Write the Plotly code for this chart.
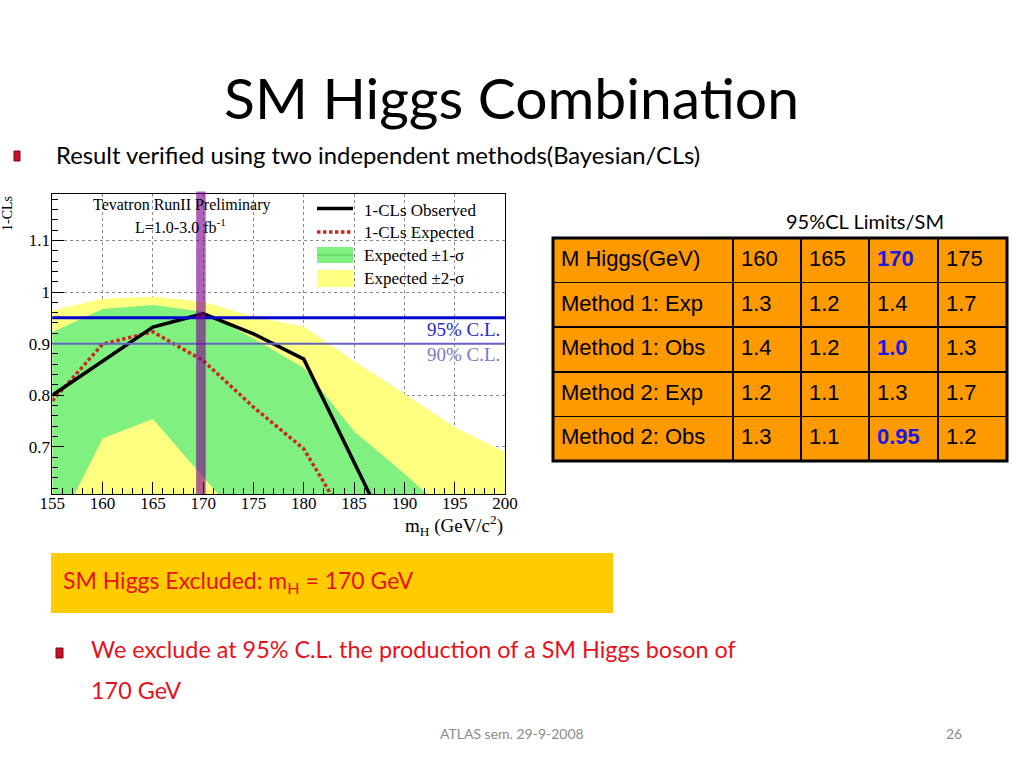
import plotly.graph_objects as go

# ---------------- data ----------------
mass = [155, 160, 165, 170, 175, 180, 185, 190, 195, 200]
obs_1mcls = [0.800, 0.866, 0.932, 0.958, 0.919, 0.870, 0.664, 0.470, 0.300, 0.200]
exp_1mcls = [0.789, 0.899, 0.923, 0.867, 0.777, 0.696, 0.533, 0.400, 0.300, 0.220]
exp_1sig_up = [0.922, 0.967, 0.975, 0.962, 0.910, 0.853, 0.730, 0.648, 0.560, 0.480]
exp_1sig_lo = [0.523, 0.716, 0.754, 0.642, 0.529, 0.450, 0.400, 0.350, 0.300, 0.250]
exp_2sig_up = [0.964, 0.987, 0.991, 0.981, 0.952, 0.933, 0.866, 0.803, 0.738, 0.690]
exp_2sig_lo = [0.350, 0.420, 0.450, 0.400, 0.350, 0.300, 0.250, 0.200, 0.150, 0.100]
cl95 = 0.95
cl90 = 0.90
excluded_mass = 170

x_ticks = [155, 160, 165, 170, 175, 180, 185, 190, 195, 200]
y_ticks = [0.7, 0.8, 0.9, 1.0, 1.1]
y_ticklabels = ["0.7", "0.8", "0.9", "1", "1.1"]

# table: 95%CL limits / SM
tbl_mass = [160, 165, 170, 175]
tbl_rows = ["Method 1: Exp", "Method 1: Obs", "Method 2: Exp", "Method 2: Obs"]
m1_exp = [1.3, 1.2, 1.4, 1.7]
m1_obs = [1.4, 1.2, 1.0, 1.3]
m2_exp = [1.2, 1.1, 1.3, 1.7]
m2_obs = [1.3, 1.1, 0.95, 1.2]

W, H = 1024, 768
def X(px):
    return px / W
def Y(py):
    return 1 - py / H

SERIF = "Liberation Serif"
SANS = "Lato"
ARIAL = "Liberation Sans"

fig = go.Figure()

# bands
fig.add_trace(go.Scatter(
    x=mass + mass[::-1], y=exp_2sig_up + exp_2sig_lo[::-1],
    fill="toself", fillcolor="#FFFF80", line=dict(width=0),
    mode="lines", showlegend=False, hoverinfo="skip"))
fig.add_trace(go.Scatter(
    x=mass + mass[::-1], y=exp_1sig_up + exp_1sig_lo[::-1],
    fill="toself", fillcolor="#80F080", line=dict(width=0),
    mode="lines", showlegend=False, hoverinfo="skip"))
fig.add_trace(go.Scatter(
    x=mass, y=exp_1mcls, mode="lines",
    line=dict(color="#CC2A1E", width=3.5, dash="3.5px,2.5px"),
    showlegend=False))
fig.add_trace(go.Scatter(
    x=mass, y=obs_1mcls, mode="lines",
    line=dict(color="black", width=3.5), showlegend=False))

# CL lines and exclusion bar
fig.add_hline(y=cl95, line=dict(color="#0000CC", width=3))
fig.add_hline(y=cl90, line=dict(color="#6464C0", width=2))
fig.add_vrect(x0=excluded_mass - 0.7, x1=excluded_mass + 0.25, y0=0, y1=1.008,
              fillcolor="rgba(125,0,140,0.62)", line=dict(width=0), layer="above")

axis_font = dict(family=SERIF, size=17, color="black")
fig.update_layout(
    width=W, height=H, margin=dict(l=0, r=0, t=0, b=0, autoexpand=False),
    paper_bgcolor="white", plot_bgcolor="white",
    xaxis=dict(domain=[X(52.3), X(505)], range=[155, 200], automargin=False,
               tickvals=x_ticks, ticks="inside", ticklen=12, tickcolor="black",
               showline=True, linecolor="black", linewidth=1, mirror=True,
               showgrid=True, gridcolor="#8a8a8a", griddash="dot", gridwidth=1,
               zeroline=False, layer="above traces", tickfont=axis_font,
               ticklabelstandoff=-7,
               minor=dict(dtick=1, tick0=155, ticks="inside", ticklen=6,
                          tickcolor="black", showgrid=False)),
    yaxis=dict(domain=[Y(494.3), Y(194)], range=[0.608, 1.19], automargin=False,
               tickvals=y_ticks, ticktext=y_ticklabels,
               ticks="inside", ticklen=12, tickcolor="black",
               showline=True, linecolor="black", linewidth=1, mirror=True,
               showgrid=True, gridcolor="#8a8a8a", griddash="dot", gridwidth=1,
               zeroline=False, layer="above traces", tickfont=axis_font,
               ticklabelstandoff=-2,
               minor=dict(dtick=0.02, tick0=0.6, ticks="inside", ticklen=6,
                          tickcolor="black", showgrid=False)),
    showlegend=False,
)

ann = []
def text(px, py, s, size, color="black", family=SANS, xanchor="left", **kw):
    ann.append(dict(x=X(px), y=Y(py), xref="paper", yref="paper", text=s,
                    showarrow=False, xanchor=xanchor, yanchor="middle",
                    font=dict(family=family, size=size, color=color), **kw))

# slide text
text(511, 97, "SM Higgs Combination", 57, xanchor="center")
text(54, 155, "Result verified using two independent methods(Bayesian/CLs)", 23.8)
text(865, 221, "95%CL Limits/SM", 20, xanchor="center")
text(61, 581, "SM Higgs Excluded: m<sub>H</sub> = 170 GeV", 23, color="#E8111B")
text(89, 649, "We exclude at 95% C.L. the production of a SM Higgs boson of", 23.4, color="#E8111B")
text(89, 690, "170 GeV", 23.4, color="#E8111B")
text(512, 733, "ATLAS sem. 29-9-2008", 14, color="#8B8B8B", xanchor="center")
text(954, 733, "26", 14, color="#8B8B8B", xanchor="center")

# plot text
text(181.5, 205, "Tevatron RunII Preliminary", 16, family=SERIF, xanchor="center")
text(180, 226, "L=1.0-3.0 fb<sup>-1</sup>", 16, family=SERIF, xanchor="center")
text(502, 329.5, "95% C.L.", 19, color="#2828D0", family=SERIF, xanchor="right")
text(502, 355, "90% C.L.", 19, color="#7A78C8", family=SERIF, xanchor="right")
text(505, 525, "m<sub>H</sub> (GeV/c<sup>2</sup>)", 19, family=SERIF, xanchor="right")
ann.append(dict(x=X(8), y=Y(214), xref="paper", yref="paper", text="1-CLs",
                showarrow=False, textangle=-90, xanchor="center", yanchor="middle",
                font=dict(family=SERIF, size=14, color="black")))

# legend text
text(361.7, 210.5, "1-CLs Observed", 17, family=SERIF)
text(361.7, 232.5, "1-CLs Expected", 17, family=SERIF)
text(361.7, 255, "Expected ±1-σ", 17, family=SERIF)
text(361.7, 278, "Expected ±2-σ", 17, family=SERIF)

fig.update_layout(annotations=ann)

shapes = list(fig.layout.shapes)
def pshape(**kw):
    d = dict(xref="paper", yref="paper", layer="above")
    d.update(kw)
    shapes.append(d)

# legend samples
pshape(type="line", x0=X(317), x1=X(353), y0=Y(208.5), y1=Y(208.5), line=dict(color="black", width=3.5))
pshape(type="line", x0=X(317), x1=X(353), y0=Y(232), y1=Y(232), line=dict(color="#CC2A1E", width=3.5, dash="3.5px,2.5px"))
pshape(type="rect", x0=X(317), x1=X(353), y0=Y(263), y1=Y(247), fillcolor="#80F080", line=dict(width=0))
pshape(type="line", x0=X(317), x1=X(353), y0=Y(255), y1=Y(255), line=dict(color="#50D050", width=1))
pshape(type="rect", x0=X(317), x1=X(353), y0=Y(287), y1=Y(270), fillcolor="#FFFF80", line=dict(width=0))

# yellow box
pshape(type="rect", x0=X(51), x1=X(613), y0=Y(613), y1=Y(553), fillcolor="#FFCC00", line=dict(width=0), layer="below")
# bullets
pshape(type="rect", x0=X(14), x1=X(20), y0=Y(161), y1=Y(151), fillcolor="#C8102E", line=dict(color="#7A0A0A", width=1))
pshape(type="rect", x0=X(56), x1=X(63), y0=Y(658), y1=Y(648), fillcolor="#C8102E", line=dict(color="#7A0A0A", width=1))
# table outer frame
pshape(type="rect", x0=X(553), x1=X(1007), y0=Y(461), y1=Y(238), line=dict(color="black", width=3))

fig.update_layout(shapes=shapes)

# table
blue = "#1A1AE0"
def cell(s, hl=False):
    return "<b>%s</b>" % s if hl else "<span>%s</span>" % s

hdr = [cell("M Higgs(GeV)")] + [cell(m, m == excluded_mass) for m in tbl_mass]
hdr_colors = ["black"] + [(blue if m == excluded_mass else "black") for m in tbl_mass]
rows_vals = [m1_exp, m1_obs, m2_exp, m2_obs]
obs_row = [False, True, False, True]
cols = [[cell(r) for r in tbl_rows]]
col_colors = [["black"] * 4]
for j, m in enumerate(tbl_mass):
    vals, colors = [], []
    for r, rv in enumerate(rows_vals):
        hl = (m == excluded_mass and obs_row[r])
        vals.append(cell(rv[j], hl))
        colors.append(blue if hl else "black")
    cols.append(vals)
    col_colors.append(colors)

fig.add_trace(go.Table(
    domain=dict(x=[X(553), X(1007)], y=[Y(461), Y(238)]),
    columnwidth=[180, 68, 68, 69, 69],
    header=dict(values=hdr, fill_color="#FF9900", align="left", height=44.6,
                line=dict(color="black", width=1.5),
                font=dict(family=ARIAL, size=22, color=hdr_colors)),
    cells=dict(values=cols, fill_color="#FF9900", align="left", height=44.6,
               line=dict(color="black", width=1.5),
               font=dict(family=ARIAL, size=22, color=col_colors)),
))

fig.write_html("out.html", config={"displayModeBar": False},
               post_script="document.body.style.margin='0';document.body.style.overflow='hidden';")
